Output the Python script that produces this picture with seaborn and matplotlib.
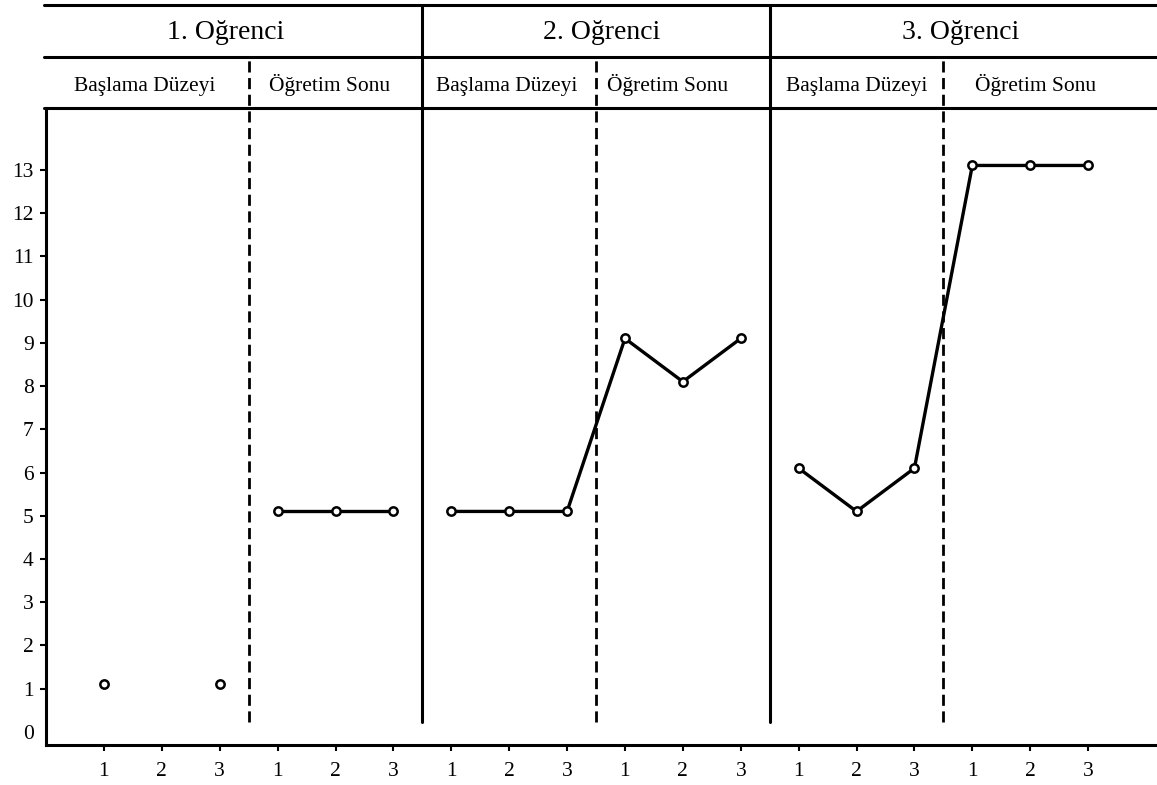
import numpy as np
import pandas as pd
import matplotlib
matplotlib.use("Agg")
import matplotlib.pyplot as plt
import seaborn as sns

# session positions 1..18 (three sessions per phase, two phases per student)
sessions = list(range(1, 19))
tick_labels = ["1", "2", "3"] * 6

# values (None = no probe that session)
ogr1 = [1.1, None, 1.1, 5.1, 5.1, 5.1]
ogr2 = [5.1, 5.1, 5.1, 9.1, 8.1, 9.1]
ogr3 = [6.1, 5.1, 6.1, 13.1, 13.1, 13.1]

# which points are joined by a line
ogr1_seg = ["a", "b", "c", "d", "d", "d"]
ogr2_seg = ["e"] * 6
ogr3_seg = ["f"] * 6

students = ["1. Oğrenci", "2. Oğrenci", "3. Oğrenci"]
phases = ["Başlama Düzeyi", "Öğretim Sonu"]

rows = []
for vals, segs in [(ogr1, ogr1_seg), (ogr2, ogr2_seg), (ogr3, ogr3_seg)]:
    for v, s in zip(vals, segs):
        rows.append({"y": v, "seg": s})
df = pd.DataFrame(rows)
df["x"] = sessions
df = df.dropna()

sns.set_theme(style="ticks")
plt.rcParams["font.family"] = ["Liberation Serif", "DejaVu Serif"]

fig = plt.figure(figsize=(11.57, 7.85), dpi=100)
ax = fig.add_axes([0.0398, 0.051, 0.9602, 0.8115])

sns.lineplot(data=df, x="x", y="y", units="seg", estimator=None, color="black",
             lw=2.4, marker="o", markersize=6, markerfacecolor="white",
             markeredgecolor="black", markeredgewidth=1.8, ax=ax, legend=False)

ax.set_xlim(0, 19.19)
ax.set_ylim(-0.3, 14.43)
ax.set_xticks(sessions)
ax.set_xticklabels(tick_labels)
ax.set_yticks(range(0, 14))
ax.set_yticklabels([str(i) for i in range(0, 14)])
ax.set_xlabel("")
ax.set_ylabel("")
for s in ["top", "right"]:
    ax.spines[s].set_visible(False)
for s in ["left", "bottom"]:
    ax.spines[s].set_linewidth(2.2)
    ax.spines[s].set_color("black")
ax.tick_params(axis="both", which="both", direction="out", length=4, width=1.5,
               colors="black", labelsize=15.5, left=True, bottom=True)
ax.tick_params(axis="x", pad=8)
ax.tick_params(axis="y", pad=5)
ax.yaxis.get_major_ticks()[0].tick1line.set_visible(False)
ax.grid(False)

tr = ax.get_xaxis_transform()
y_low = 0.036
y_mid = 1.0801
y_top = 1.1617

# horizontal header lines
for yy in [1.0, y_mid, y_top]:
    ax.plot([-0.03, 19.19], [yy, yy], transform=tr, color="black", lw=2.2,
            clip_on=False)

# student separators (solid) and phase separators (dashed)
for xx in [6.5, 12.5]:
    ax.plot([xx, xx], [y_low, y_top], transform=tr, color="black", lw=2.2,
            clip_on=False)
for xx in [3.5, 9.5, 15.5]:
    ax.plot([xx, xx], [y_low, y_mid], transform=tr, color="black", lw=2,
            ls=(0, (4, 2)), clip_on=False)

student_x = [3.1, 9.6, 15.8]
for name, xx in zip(students, student_x):
    ax.text(xx, 1.1083, name, transform=tr, ha="center", va="baseline",
            fontsize=20, color="black")

phase_x = [1.71, 4.9, 7.95, 10.74, 14.0, 17.1]
for i, xx in enumerate(phase_x):
    ax.text(xx, 1.0267, phases[i % 2], transform=tr, ha="center",
            va="baseline", fontsize=15.5, color="black")

fig.savefig("out.png", dpi=100)
